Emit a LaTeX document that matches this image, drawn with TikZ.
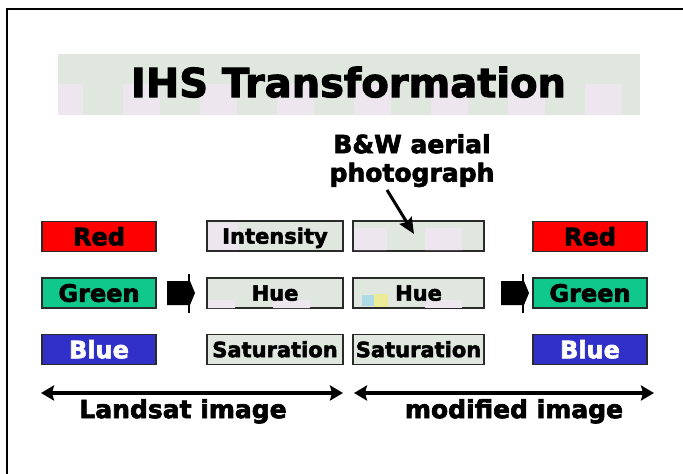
\documentclass[tikz,border=0pt]{standalone}
\usepackage{fontspec}
\setmainfont{DejaVu Sans}[BoldFeatures={FakeBold=2.6}]
\usetikzlibrary{arrows.meta}
\definecolor{cred}{HTML}{FF0000}
\definecolor{cgreen}{HTML}{10C88C}
\definecolor{cblue}{HTML}{3030C8}
\definecolor{bggreen}{HTML}{DFE7DF}
\definecolor{bgpink}{HTML}{EEE6EE}
\definecolor{bdr}{HTML}{2A2A2A}
\tikzset{
  fs/.style={font=\bfseries\fontsize{#1}{#1}\selectfont, inner sep=0pt, text height={0.73*#1 pt}, text depth=0pt},
  colbox/.style={draw=bdr, line width=1.4pt, minimum width=114pt, minimum height=30pt, fs=24},
  graybox/.style={draw=bdr, line width=1.4pt, fill=bggreen, minimum height=30pt, fs=21},
  dbl/.style={line width=3.2pt, {Stealth[length=13pt,width=15pt,inset=2pt]}-{Stealth[length=13pt,width=15pt,inset=2pt]}},
  blockarrow/.style={fill=black},
}
\begin{document}
\begin{tikzpicture}[x=1pt,y=-1pt]
\useasboundingbox (0,0) rectangle (683,474);
\fill[white] (0,0) rectangle (683,474);
% frame
\draw[line width=2pt] (7,474) -- (7,9) -- (683,9);
% title banner
\fill[bggreen] (58,54) rectangle (640,115);
\begin{scope}
\clip (58,54) rectangle (640,115);
\foreach \k in {-1,...,7} {
  \fill[bgpink] ({123+77*\k},84) rectangle ({160+77*\k},115);
}
\end{scope}
\node[fs=40] (title) at (348.5,82.5) {IHS Transformation};

% left colour boxes
\node[colbox, fill=cred, text=black] (lred) at (99,236.5) {Red};
\node[colbox, fill=cgreen, text=black] (lgreen) at (99,293) {Green};
\node[colbox, fill=cblue, text=white] (lblue) at (99,349.5) {Blue};

% middle column boxes
\node[graybox, minimum width=136pt] (int) at (275,236) {};
\fill[bgpink] (208,223) rectangle (238,250);
\node[fs=21] (intt) at (int) {Intensity};
\node[graybox, minimum width=136pt] (hue) at (275,293) {};
\fill[bgpink] (208,300) rectangle (235,308) (273,300) rectangle (310,308);
\node[fs=21] (huet) at (hue) {Hue};
\node[graybox, minimum width=136pt] (sat) at (275,349.5) {Saturation};

% right gray column
\node[graybox, minimum width=131pt] (bw) at (418.5,236) {};
\fill[bgpink] (354,228) rectangle (387,250) (425,228) rectangle (462,250);
\node[graybox, minimum width=131pt] (rhue) at (418.5,293) {};
\fill[bgpink] (425,300) rectangle (462,308);
\fill[yellow!35!bggreen] (374,294) rectangle (388,307);
\fill[cyan!25!bggreen] (362,295) rectangle (374,306);
\node[fs=21] (rhuet) at (rhue) {Hue};
\node[graybox, minimum width=131pt] (rsat) at (418.5,349.5) {Saturation};

% right colour boxes
\node[colbox, fill=cred, text=black] (rred) at (590,236.5) {Red};
\node[colbox, fill=cgreen, text=black] (rgreen) at (590,293) {Green};
\node[colbox, fill=cblue, text=white] (rblue) at (590,349.5) {Blue};

% block arrows
\fill[blockarrow] (167,281) -- (190,281) -- (195,293) -- (190,305) -- (167,305) -- cycle;
\draw[line width=1.4pt] (189,274) -- (189,313);
\fill[blockarrow] (501,281) -- (524,281) -- (529,293) -- (524,305) -- (501,305) -- cycle;
\draw[line width=1.4pt] (523,274) -- (523,313);

% B&W label and arrow
\node[fs=25] (bw1) at (412,144) {B\&W aerial};
\node[fs=25] (bw2) at (412,172.5) {photograph};
\coordinate (bwa) at (387,190);
\coordinate (bwb) at (414,234);
\draw[line width=3pt, -{Stealth[length=16pt,width=14pt,inset=2pt]}] (bwa) -- (bwb);

% bottom double arrows
\coordinate (la) at (41,393);
\coordinate (lb) at (343,393);
\coordinate (ra) at (354,393);
\coordinate (rb) at (654,393);
\draw[dbl] (la) -- (lb);
\draw[dbl] (ra) -- (rb);
\node[fs=25] (land) at (183,409) {Landsat image};
\node[fs=25] (mod) at (514,409) {modified image};
\end{tikzpicture}
\end{document}
